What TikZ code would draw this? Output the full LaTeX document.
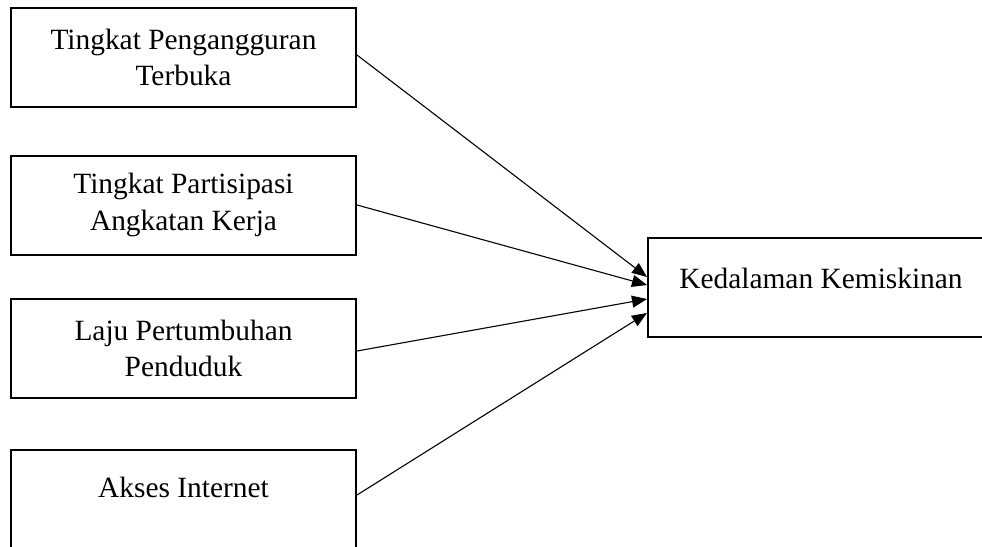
\documentclass[tikz,border=0pt]{standalone}
\usepackage{fontspec}
\setmainfont{Liberation Serif}
\usetikzlibrary{arrows.meta}
\begin{document}
\begin{tikzpicture}[x=1pt,y=-1pt,
  box/.style={draw, line width=2pt, minimum width=345pt, minimum height=99pt, inner sep=0pt, align=center, font=\fontsize{29.4}{36.5}\selectfont},
  conn/.style={line width=1.1pt, -{Triangle[length=15pt,width=12pt]}}]
\useasboundingbox (0,0) rectangle (982,546);
\clip (0,0) rectangle (982,546);
\node[box] (b1) at (183.5,57.5) {Tingkat Pengangguran\\Terbuka};
\node[box] (b2) at (183.5,205) {Tingkat Partisipasi\\Angkatan Kerja};
\node[box] (b3) at (183.5,348.5) {Laju Pertumbuhan\\Penduduk};
\node[box, text depth=24pt] (b4) at (183.5,499.5) {Akses Internet};
\node[box, minimum width=346pt, text depth=19pt] (kb) at (821,287.5) {Kedalaman Kemiskinan};
\draw[conn] ([yshift=2.5pt]b1.east) -- ([yshift=10.5pt]kb.west);
\draw[conn] (b2.east) -- ([yshift=2.5pt]kb.west);
\draw[conn] ([yshift=-2.5pt]b3.east) -- ([yshift=-11.5pt]kb.west);
\draw[conn] ([yshift=4.5pt]b4.east) -- ([yshift=-25.5pt]kb.west);
\end{tikzpicture}
\end{document}
